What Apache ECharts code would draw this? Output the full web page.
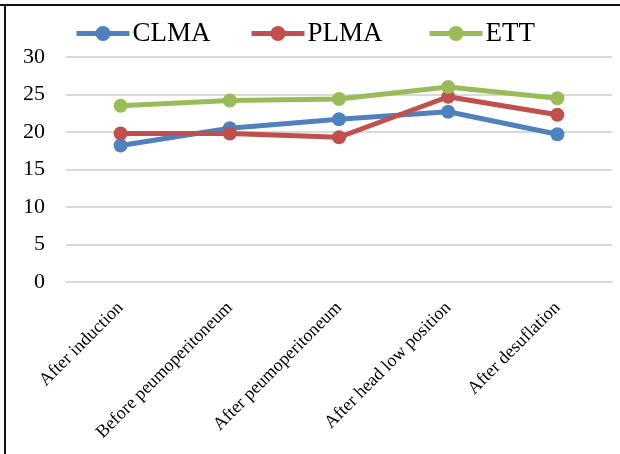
<!DOCTYPE html>
<html>
<head>
<meta charset="utf-8">
<script src="https://cdn.jsdelivr.net/npm/echarts@6/dist/echarts.min.js"></script>
<style>
  html, body { margin: 0; padding: 0; background: #fff; }
  #chart { width: 620px; height: 454px; }
</style>
</head>
<body>
<div id="chart"></div>
<script>
// Measurement stages
const stages = [
  'After induction',
  'Before peumoperitoneum',
  'After peumoperitoneum',
  'After head low position',
  'After desuflation'
];

// Series values per stage
const clma = [18.2, 20.5, 21.7, 22.7, 19.7];
const plma = [19.8, 19.8, 19.3, 24.7, 22.3];
const ett  = [23.5, 24.2, 24.4, 26.0, 24.5];

const serif = '"Liberation Serif", "Times New Roman", serif';
const colors = { CLMA: '#4F81BD', PLMA: '#C0504D', ETT: '#9BBB59' };

function lineSeries(name, data) {
  const color = colors[name];
  return {
    name: name,
    type: 'line',
    data: data,
    symbol: 'circle',
    symbolSize: 14,
    lineStyle: { width: 5, color: color },
    itemStyle: { color: color },
    emphasis: { disabled: true },
    animation: false
  };
}

// One legend block per series so each entry sits at its own offset
function legendAt(name, left) {
  return {
    top: 15,
    left: left,
    itemWidth: 53,
    itemHeight: 19,
    itemGap: 0,
    lineStyle: { width: 5 },
    textStyle: { fontFamily: serif, fontSize: 27, color: '#000', padding: [0, 0, 0, -2] },
    data: [name]
  };
}

const chart = echarts.init(document.getElementById('chart'));
chart.setOption({
  animation: false,
  backgroundColor: '#fff',
  textStyle: { fontFamily: serif },
  graphic: [
    { type: 'line', shape: { x1: 0, y1: 5, x2: 620, y2: 5 }, style: { stroke: '#111', lineWidth: 2 } },
    { type: 'line', shape: { x1: 5, y1: 4, x2: 5, y2: 454 }, style: { stroke: '#111', lineWidth: 2 } }
  ],
  legend: [
    legendAt('CLMA', 69),
    legendAt('PLMA', 244),
    legendAt('ETT', 422)
  ],
  grid: { left: 66, right: 8, top: 57, bottom: 172, containLabel: false },
  xAxis: {
    type: 'category',
    data: stages,
    boundaryGap: true,
    axisLine: { show: true, lineStyle: { color: '#d9d9d9', width: 2 } },
    axisTick: { show: false },
    axisLabel: {
      rotate: 45,
      interval: 0,
      fontFamily: serif,
      fontSize: 18,
      color: '#000',
      margin: 23
    }
  },
  yAxis: {
    type: 'value',
    min: 0,
    max: 30,
    interval: 5,
    axisLine: { show: false },
    axisTick: { show: false },
    splitLine: { lineStyle: { color: '#d9d9d9', width: 2 } },
    axisLabel: { fontFamily: serif, fontSize: 22, color: '#000', margin: 21 }
  },
  series: [
    lineSeries('CLMA', clma),
    lineSeries('PLMA', plma),
    lineSeries('ETT', ett)
  ]
});
</script>
</body>
</html>
